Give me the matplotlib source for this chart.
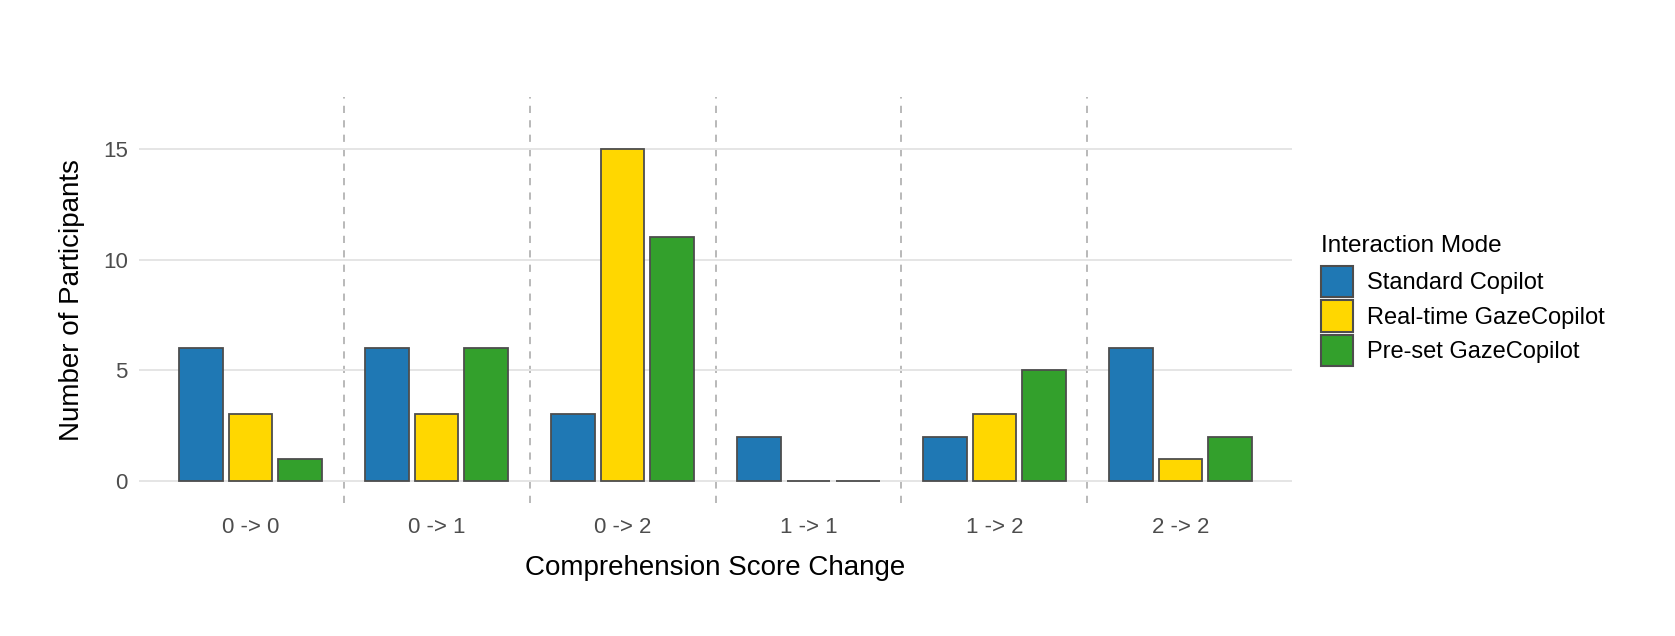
import numpy as np
import matplotlib
matplotlib.use('Agg')
import matplotlib.pyplot as plt
from matplotlib.patches import Patch

plt.rcParams['font.family'] = ['Liberation Sans', 'DejaVu Sans']

# data
categories = ['0 -> 0', '0 -> 1', '0 -> 2', '1 -> 1', '1 -> 2', '2 -> 2']
modes = ['Standard Copilot', 'Real-time GazeCopilot', 'Pre-set GazeCopilot']
standard = [6, 6, 3, 2, 2, 6]
realtime = [3, 3, 15, 0, 3, 1]
preset = [1, 6, 11, 0, 5, 2]
colors = ['#1F78B4', '#FFD700', '#33A02C']
y_ticks = [0, 5, 10, 15]

W, H = 1675, 636
fig = plt.figure(figsize=(W / 100, H / 100), dpi=100)
ax = fig.add_axes([139 / W, 1 - 503 / H, (1292 - 139) / W, (503 - 97) / H])

x = np.arange(len(categories))
pitch = 0.265
width = 0.235
for i, (vals, col) in enumerate(zip([standard, realtime, preset], colors)):
    ax.bar(x + (i - 1) * pitch, vals, width=width, color=col,
           edgecolor='#4D4D4D', linewidth=1.3, zorder=3, label=modes[i])

# separators between groups
for xv in x[:-1] + 0.5:
    ax.axvline(xv, color='#B3B3B3', linestyle=(0, (4, 4)), linewidth=1.3, zorder=1)

ax.set_xlim(-0.6, len(categories) - 1 + 0.6)
ax.set_ylim(-1.0, 17.35)
ax.set_yticks(y_ticks)
ax.set_xticks(x)
ax.set_xticklabels(categories)
ax.yaxis.grid(True, color='#E5E5E5', linewidth=1.4, zorder=0)
ax.xaxis.grid(False)
for s in ax.spines.values():
    s.set_visible(False)
ax.tick_params(axis='both', length=0, labelsize=16, labelcolor='#4D4D4D')
ax.tick_params(axis='x', pad=10)
ax.tick_params(axis='y', pad=8)

ax.set_xlabel('Comprehension Score Change', fontsize=20, labelpad=12)
ax.set_ylabel('Number of Participants', fontsize=20, labelpad=13)

# legend: title as separate text so spacing matches
fig.text(1321 / W, 1 - 252 / H, 'Interaction Mode', fontsize=17.5,
         ha='left', va='baseline')
handles = [Patch(facecolor=c, edgecolor='#4D4D4D', linewidth=1.5) for c in colors]
leg = fig.legend(handles, modes, loc='upper left',
                 bbox_to_anchor=(1321 / W, 1 - 266 / H), frameon=False,
                 fontsize=17, handlelength=1.36,
                 handleheight=1.65, handletextpad=0.59, labelspacing=0.14,
                 borderpad=0, borderaxespad=0)

fig.savefig('out.png', dpi=100)
